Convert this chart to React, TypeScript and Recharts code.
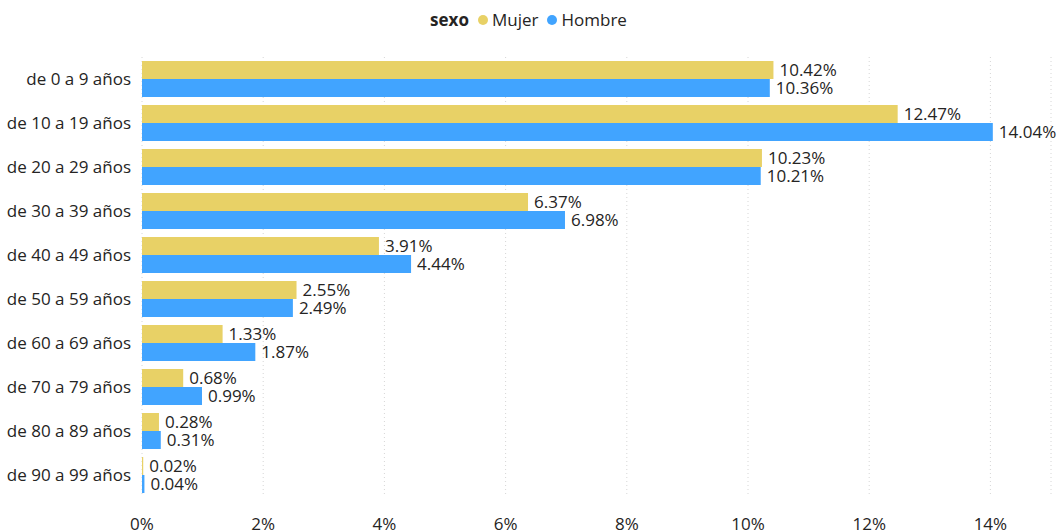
import { BarChart, Bar, XAxis, YAxis, CartesianGrid, LabelList } from 'recharts'

const categories = [
  'de 0 a 9 años',
  'de 10 a 19 años',
  'de 20 a 29 años',
  'de 30 a 39 años',
  'de 40 a 49 años',
  'de 50 a 59 años',
  'de 60 a 69 años',
  'de 70 a 79 años',
  'de 80 a 89 años',
  'de 90 a 99 años',
]
const mujer = [10.42, 12.47, 10.23, 6.37, 3.91, 2.55, 1.33, 0.68, 0.28, 0.02]
const hombre = [10.36, 14.04, 10.21, 6.98, 4.44, 2.49, 1.87, 0.99, 0.31, 0.04]
const xTicks = [0, 2, 4, 6, 8, 10, 12, 14]

const MUJER_COLOR = '#E8D166'
const HOMBRE_COLOR = '#41A4FF'
const FONT = "'Open Sans', 'Noto Sans', sans-serif"
const TEXT = '#252423'

const data = categories.map((name, i) => ({ name, Mujer: mujer[i], Hombre: hombre[i] }))

const fmt = (v: any) => `${Number(v).toFixed(2)}%`

function LegendBar() {
  const dot = (color: string) => (
    <span
      style={{
        display: 'inline-block',
        width: 10,
        height: 10,
        borderRadius: 5,
        background: color,
        margin: '0 4px 0 9px',
        verticalAlign: 'middle',
        position: 'relative',
        top: -1,
      }}
    />
  )
  return (
    <div
      style={{
        position: 'absolute',
        top: 8,
        left: 0,
        width: 1057,
        textAlign: 'center',
        fontFamily: FONT,
        fontSize: 17,
        color: TEXT,
        lineHeight: '24px',
        paddingLeft: 0,
        boxSizing: 'border-box',
      }}
    >
      <span style={{ fontWeight: 700 }}>sexo</span>
      {dot(MUJER_COLOR)}
      <span>Mujer</span>
      {dot(HOMBRE_COLOR)}
      <span>Hombre</span>
    </div>
  )
}

export default function App() {
  return (
    <div style={{ position: 'fixed', left: 0, top: 0, width: 1057, height: 531, background: '#fff' }}>
      <LegendBar />
      <BarChart
        width={1057}
        height={531}
        data={data}
        layout="vertical"
        margin={{ top: 57, right: 6, bottom: 0, left: 0 }}
        barSize={18}
        barGap={0}
      >
        <CartesianGrid horizontal={false} stroke="#d6d6d6" strokeDasharray="1 3" />
        <XAxis
          type="number"
          domain={[0, 15]}
          ticks={xTicks}
          tickFormatter={(v) => `${v}%`}
          axisLine={false}
          tickLine={false}
          height={34}
          tick={{ fill: TEXT, fontSize: 17, fontFamily: FONT, dy: 13 }}
        />
        <YAxis
          type="category"
          dataKey="name"
          width={142}
          axisLine={false}
          tickLine={false}
          tick={{ fill: TEXT, fontSize: 17, fontFamily: FONT, dx: -3 }}
        />
        <Bar dataKey="Mujer" fill={MUJER_COLOR} isAnimationActive={false}>
          <LabelList
            dataKey="Mujer"
            position="right"
            offset={6}
            formatter={fmt}
            style={{ fill: TEXT, fontSize: 17, fontFamily: FONT }}
          />
        </Bar>
        <Bar dataKey="Hombre" fill={HOMBRE_COLOR} isAnimationActive={false}>
          <LabelList
            dataKey="Hombre"
            position="right"
            offset={6}
            formatter={fmt}
            style={{ fill: TEXT, fontSize: 17, fontFamily: FONT }}
          />
        </Bar>
      </BarChart>
    </div>
  )
}
